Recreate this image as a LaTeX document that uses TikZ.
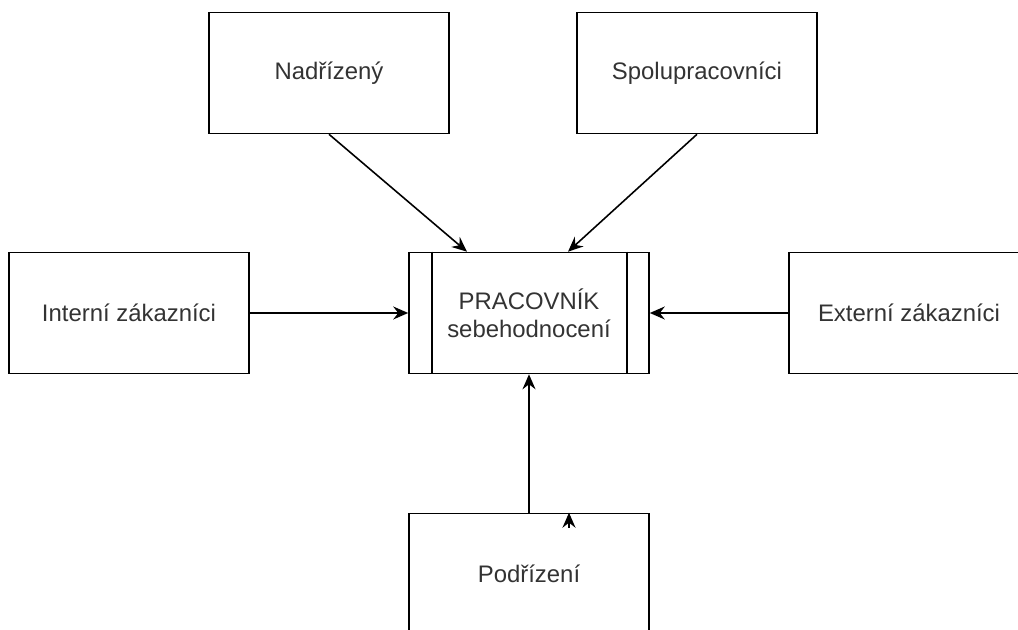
\documentclass[tikz,border=0pt]{standalone}
\usepackage{fontspec}
\setmainfont{Liberation Sans}
\usepackage{tikz}
\usetikzlibrary{positioning,arrows.meta}

\begin{document}
\begin{tikzpicture}[->,>={Stealth[length=3mm,width=2.6mm,inset=1mm]},line width=0.9pt,on grid,
    box/.style={draw,rectangle,minimum width=4.8cm,minimum height=2.42cm,inner sep=0pt,align=center,
      text=black!80,font=\fontsize{13.6}{16}\selectfont}]
                \useasboundingbox (-10.58,-6.34) rectangle (9.78,6.26);
                \clip (-10.58,-6.34) rectangle (9.78,6.26);
                \node[box] (prac) {PRACOVNÍK\\sebehodnocení};
                \node[box] (nadr) [above left=4.8cm and 4cm of prac] {Nadřízený};
                \node[box] (spolu) [above right=4.8cm and 3.36cm of prac] {Spolupracovníci};
                \node[box] (int) [left=8cm of prac] {Interní zákazníci};
                \node[box] (ext) [right=7.6cm of prac] {Externí zákazníci};
                \node[box] (podr) [below=5.22cm of prac] {Podřízení};
                \draw[-] ([xshift=0.48cm]prac.north west) -- ([xshift=0.48cm]prac.south west);
                \draw[-] ([xshift=-0.46cm]prac.north east) -- ([xshift=-0.46cm]prac.south east);
                \path
                    (nadr.south) edge ([xshift=-1.24cm]prac.north)
                    (spolu.south) edge ([xshift=0.78cm]prac.north)
                    (int) edge (prac)
                    (ext) edge (prac)
                    (podr) edge (prac);
                \coordinate (hrot) at ([xshift=0.8cm]podr.north);
                \coordinate (hpata) at ([xshift=0.8cm,yshift=-0.3cm]podr.north);
                \draw (hpata) -- (hrot);
            \end{tikzpicture}
\end{document}
